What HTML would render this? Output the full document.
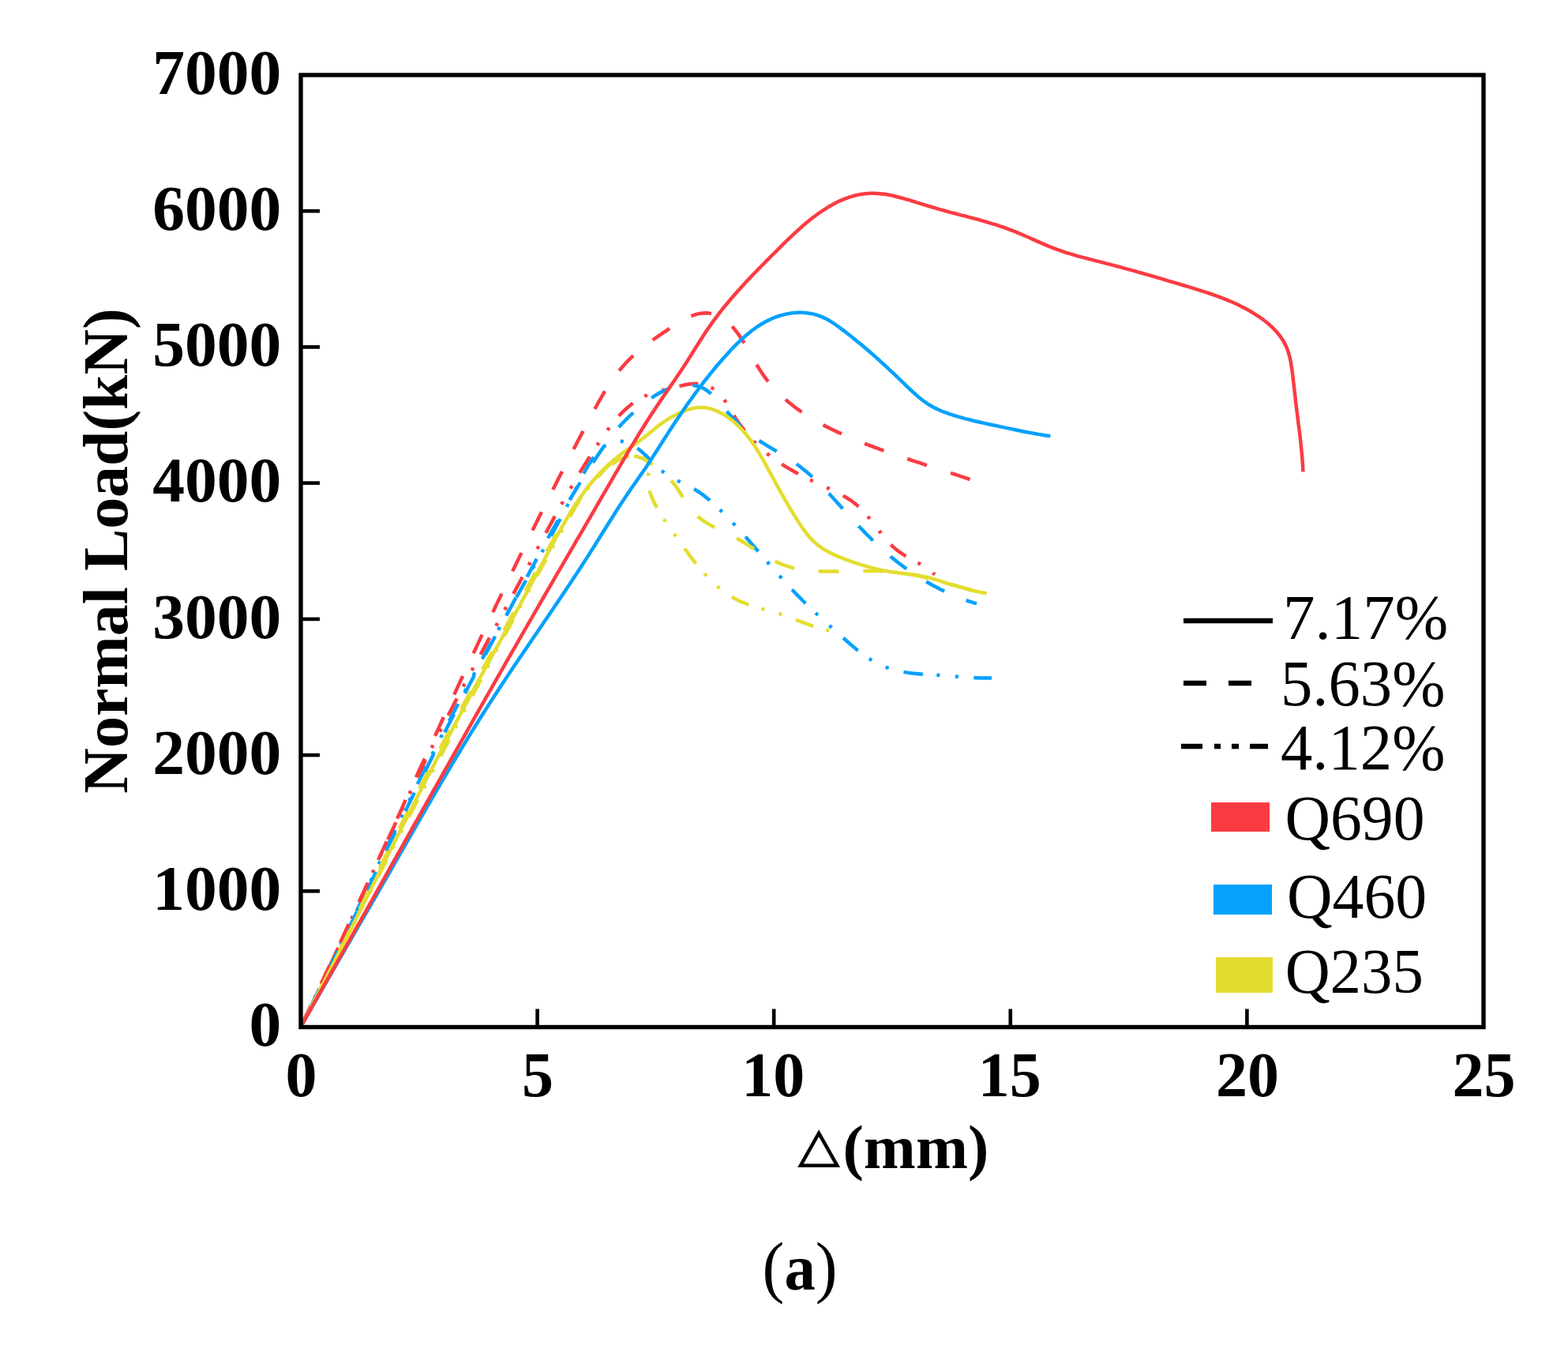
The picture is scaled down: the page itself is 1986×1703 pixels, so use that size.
<!DOCTYPE html>
<html><head><meta charset="utf-8"><title>Normal Load vs displacement</title>
<style>
html,body{margin:0;padding:0;background:#fff;}
body{width:1986px;height:1703px;overflow:hidden;}
svg{display:block;}
</style></head>
<body>
<svg width="1986" height="1703" viewBox="0 0 1986 1703">
<rect x="0" y="0" width="1986" height="1703" fill="#fff"/>
<g>
<g fill="none" stroke-width="4.5" stroke-linejoin="round">
<path d="M381.0,1300.0L383.3,1295.5L385.6,1291.1L387.9,1286.6L390.2,1282.2L392.5,1277.7L394.8,1273.3L397.1,1268.8L399.4,1264.4L401.7,1259.9L404.0,1255.5L406.2,1251.0L408.5,1246.6L410.8,1242.1L413.1,1237.7L415.4,1233.2L417.7,1228.8L420.0,1224.3L422.3,1219.9L424.6,1215.4L426.9,1210.9L429.2,1206.5L431.5,1202.0L433.7,1197.6L436.0,1193.1L438.3,1188.7L440.6,1184.2L442.9,1179.8L445.2,1175.3L447.5,1170.9L449.8,1166.4L452.1,1162.0L454.4,1157.5L456.7,1153.1L459.0,1148.6L461.2,1144.1L463.5,1139.7L465.8,1135.2L468.1,1130.8L470.4,1126.3L472.7,1121.9L475.0,1117.4L477.3,1113.0L479.6,1108.5L481.9,1104.1L484.2,1099.6L486.5,1095.2L488.8,1090.7L491.1,1086.3L493.4,1081.8L495.7,1077.4L498.0,1072.9L500.3,1068.5L502.6,1064.0L504.9,1059.6L507.2,1055.1L509.5,1050.7L511.8,1046.2L514.1,1041.8L516.4,1037.3L518.7,1032.9L521.0,1028.5L523.3,1024.0L525.6,1019.6L527.9,1015.1L530.2,1010.7L532.6,1006.2L534.9,1001.8L537.2,997.3L539.5,992.9L541.8,988.5L544.1,984.0L546.4,979.6L548.8,975.1L551.1,970.7L553.4,966.3L555.7,961.8L558.0,957.4L560.4,952.9L562.7,948.5L565.0,944.1L567.3,939.6L569.7,935.2L572.0,930.8L574.3,926.3L576.7,921.9L579.0,917.5L581.3,913.0L583.7,908.6L586.0,904.2L588.3,899.8L590.7,895.3L593.0,890.9L595.4,886.5L597.7,882.0L600.1,877.6L602.4,873.2L604.8,868.8L607.1,864.3L609.5,859.9L611.8,855.5L614.2,851.1L616.5,846.7L618.9,842.2L621.2,837.8L623.6,833.4L626.0,829.0L628.3,824.6L630.7,820.2L633.1,815.8L635.4,811.3L637.8,806.9L640.2,802.5L642.6,798.1L644.9,793.7L647.3,789.3L649.7,784.9L652.1,780.5L654.5,776.1L656.9,771.7L659.3,767.3L661.7,762.9L664.0,758.5L666.4,754.1L668.8,749.7L671.2,745.3L673.6,740.9L676.1,736.5L678.5,732.1L680.9,727.7L683.3,723.3L685.7,719.0L688.1,714.6L690.5,710.2L693.0,705.8L695.4,701.4L697.8,697.0L700.2,692.6L702.7,688.3L705.1,683.9L707.5,679.5L710.0,675.1L712.4,670.8L714.9,666.4L717.3,662.0L719.8,657.7L722.2,653.3L724.7,649.0L727.2,644.6L729.8,640.3L732.4,636.1L735.1,631.9L737.9,627.7L740.8,623.6L743.7,619.5L746.8,615.5L749.9,611.7L753.2,607.9L756.6,604.2L760.1,600.6L763.7,597.1L767.4,593.8L771.3,590.6L775.3,587.6L779.5,584.8L783.8,582.4L788.4,580.2L793.1,578.5L798.0,577.4L802.9,577.0L807.9,577.4L812.7,578.8L817.0,581.4L820.1,585.2L821.6,590.0L821.7,595.0L821.3,600.0L820.9,605.0L820.8,610.0L821.3,615.0L822.3,619.9L823.7,624.7L825.5,629.4L827.5,634.0L829.7,638.5L832.1,642.9L834.5,647.2L837.1,651.5L839.8,655.7L842.6,659.9L845.4,664.1L848.2,668.2L851.1,672.3L854.0,676.3L857.0,680.4L859.9,684.5L862.8,688.6L865.7,692.7L868.6,696.7L871.6,700.7L874.6,704.8L877.6,708.7L880.7,712.7L883.8,716.6L887.0,720.4L890.3,724.2L893.7,727.9L897.1,731.6L900.6,735.1L904.3,738.6L908.0,742.0L911.8,745.2L915.8,748.3L919.8,751.2L924.0,754.0L928.3,756.6L932.7,759.0L937.2,761.2L941.8,763.2L946.4,765.0L951.1,766.7L955.9,768.2L960.7,769.7L965.5,771.1L970.3,772.4L975.2,773.8L980.0,775.1L984.8,776.6L989.6,778.0L994.3,779.6L999.0,781.3L1003.7,783.0L1008.4,784.8L1013.1,786.6L1017.7,788.4L1022.4,790.2L1027.1,791.9L1031.9,793.5L1036.7,795.1L1041.5,796.5L1046.3,797.7L1051.2,798.8" stroke="#E3DD30" stroke-dasharray="23.8 16.8 4.0 18.8 4.0 18.8" stroke-dashoffset="45.5"/>
<path d="M381.0,1300.0L383.2,1295.5L385.4,1291.0L387.7,1286.5L389.9,1282.0L392.1,1277.5L394.3,1273.0L396.5,1268.5L398.7,1264.0L400.9,1259.5L403.1,1255.0L405.3,1250.5L407.4,1246.0L409.6,1241.4L411.8,1236.9L414.0,1232.4L416.1,1227.9L418.3,1223.4L420.5,1218.8L422.7,1214.3L424.8,1209.8L427.0,1205.3L429.1,1200.8L431.3,1196.2L433.5,1191.7L435.6,1187.2L437.8,1182.6L439.9,1178.1L442.1,1173.6L444.2,1169.1L446.4,1164.5L448.5,1160.0L450.7,1155.5L452.8,1150.9L455.0,1146.4L457.1,1141.9L459.3,1137.3L461.4,1132.8L463.6,1128.3L465.7,1123.8L467.9,1119.2L470.0,1114.7L472.2,1110.2L474.3,1105.6L476.5,1101.1L478.6,1096.6L480.8,1092.1L482.9,1087.5L485.1,1083.0L487.3,1078.5L489.4,1074.0L491.6,1069.4L493.7,1064.9L495.9,1060.4L498.1,1055.9L500.3,1051.3L502.4,1046.8L504.6,1042.3L506.8,1037.8L509.0,1033.3L511.1,1028.8L513.3,1024.3L515.5,1019.7L517.7,1015.2L519.9,1010.7L522.1,1006.2L524.3,1001.7L526.5,997.2L528.7,992.7L531.0,988.2L533.2,983.7L535.4,979.2L537.6,974.7L539.9,970.3L542.1,965.8L544.4,961.3L546.6,956.8L548.9,952.3L551.1,947.8L553.4,943.4L555.6,938.9L557.9,934.4L560.2,930.0L562.5,925.5L564.8,921.0L567.1,916.6L569.4,912.1L571.7,907.7L574.0,903.2L576.3,898.8L578.6,894.3L581.0,889.9L583.3,885.5L585.7,881.0L588.0,876.6L590.4,872.2L592.7,867.8L595.1,863.3L597.5,858.9L599.9,854.5L602.2,850.1L604.6,845.7L607.0,841.3L609.4,836.9L611.8,832.5L614.2,828.1L616.6,823.7L619.0,819.3L621.5,814.9L623.9,810.5L626.3,806.1L628.7,801.7L631.2,797.3L633.6,793.0L636.0,788.6L638.5,784.2L640.9,779.8L643.4,775.4L645.8,771.1L648.3,766.7L650.7,762.3L653.2,757.9L655.6,753.6L658.1,749.2L660.5,744.8L663.0,740.5L665.5,736.1L667.9,731.7L670.4,727.4L672.9,723.0L675.3,718.6L677.8,714.3L680.3,709.9L682.7,705.5L685.2,701.2L687.7,696.8L690.1,692.4L692.6,688.1L695.0,683.7L697.5,679.3L699.9,674.9L702.3,670.5L704.7,666.1L707.1,661.7L709.5,657.3L711.9,652.9L714.3,648.5L716.6,644.1L718.9,639.6L721.2,635.2L723.5,630.7L725.8,626.2L728.1,621.8L730.3,617.3L732.6,612.8L734.8,608.3L737.0,603.8L739.4,599.4L741.8,595.0L744.3,590.6L746.9,586.4L749.7,582.2L752.6,578.1L755.8,574.3L759.2,570.6L762.8,567.1L766.8,564.0L771.0,561.4L775.7,559.4L780.5,558.4L785.6,558.4L790.5,559.3L795.2,560.8L799.8,562.9L804.1,565.5L808.3,568.3L812.2,571.4L815.9,574.8L819.6,578.2L823.1,581.8L826.6,585.3L830.2,588.9L833.8,592.3L837.6,595.7L841.5,598.8L845.6,601.6L849.9,604.2L854.3,606.6L858.8,608.9L863.3,611.1L867.8,613.3L872.3,615.5L876.7,617.8L881.1,620.3L885.3,623.0L889.4,625.9L893.4,628.9L897.3,632.1L901.1,635.4L904.8,638.7L908.5,642.1L912.1,645.6L915.7,649.1L919.2,652.7L922.7,656.3L926.2,659.9L929.6,663.5L933.0,667.2L936.4,670.9L939.8,674.6L943.1,678.4L946.4,682.1L949.7,685.9L953.0,689.7L956.3,693.5L959.6,697.3L962.9,701.1L966.1,704.9L969.4,708.7L972.7,712.5L976.0,716.3L979.3,720.0L982.5,723.8L985.9,727.6L989.2,731.3L992.5,735.1L995.9,738.8L999.3,742.5L1002.7,746.1L1006.2,749.8L1009.7,753.4L1013.2,756.9L1016.7,760.5L1020.3,764.0L1023.9,767.5L1027.5,770.9L1031.2,774.4L1034.9,777.8L1038.6,781.2L1042.3,784.6L1046.0,787.9L1049.7,791.3L1053.4,794.7L1057.2,798.0L1060.9,801.3L1064.6,804.7L1068.4,808.0L1072.1,811.3L1075.9,814.7L1079.7,817.9L1083.5,821.1L1087.4,824.3L1091.4,827.3L1095.5,830.3L1099.6,833.1L1103.8,835.8L1108.2,838.3L1112.6,840.6L1117.2,842.7L1121.8,844.6L1126.5,846.3L1131.3,847.8L1136.2,849.1L1141.1,850.2L1146.0,851.1L1151.0,851.9L1155.9,852.5L1160.9,853.0L1165.9,853.4L1170.9,853.8L1175.9,854.1L1180.9,854.4L1185.9,854.6L1190.9,855.0L1195.9,855.3L1200.9,855.7L1205.9,856.1L1210.9,856.6L1215.9,857.0L1220.9,857.3L1225.9,857.7L1230.9,858.0L1235.9,858.2L1241.0,858.4L1246.0,858.5L1251.0,858.5L1256.0,858.4" stroke="#05A1FC" stroke-dasharray="24.6 17.4 4.1 19.5 4.1 19.5" stroke-dashoffset="15.8"/>
<path d="M381.0,1300.0L383.2,1295.5L385.4,1291.0L387.6,1286.5L389.8,1282.0L391.9,1277.5L394.1,1273.0L396.3,1268.4L398.4,1263.9L400.6,1259.4L402.7,1254.9L404.9,1250.3L407.0,1245.8L409.2,1241.3L411.3,1236.8L413.4,1232.2L415.6,1227.7L417.7,1223.1L419.8,1218.6L421.9,1214.1L424.0,1209.5L426.1,1205.0L428.2,1200.4L430.3,1195.9L432.4,1191.3L434.5,1186.8L436.6,1182.2L438.7,1177.7L440.8,1173.1L442.9,1168.6L445.0,1164.0L447.1,1159.5L449.2,1154.9L451.2,1150.4L453.3,1145.8L455.4,1141.2L457.5,1136.7L459.6,1132.1L461.7,1127.6L463.7,1123.0L465.8,1118.5L467.9,1113.9L470.0,1109.4L472.1,1104.8L474.2,1100.2L476.3,1095.7L478.4,1091.1L480.4,1086.6L482.5,1082.0L484.6,1077.5L486.7,1072.9L488.8,1068.4L490.9,1063.8L493.0,1059.3L495.1,1054.8L497.3,1050.2L499.4,1045.7L501.5,1041.1L503.6,1036.6L505.7,1032.1L507.9,1027.5L510.0,1023.0L512.1,1018.5L514.3,1013.9L516.4,1009.4L518.6,1004.9L520.7,1000.3L522.9,995.8L525.1,991.3L527.2,986.8L529.4,982.3L531.6,977.8L533.8,973.3L536.0,968.8L538.2,964.3L540.4,959.8L542.6,955.3L544.8,950.8L547.0,946.3L549.3,941.8L551.5,937.3L553.8,932.9L556.0,928.4L558.3,923.9L560.6,919.5L562.9,915.0L565.2,910.5L567.5,906.1L569.8,901.7L572.1,897.2L574.4,892.8L576.7,888.3L579.0,883.9L581.4,879.5L583.7,875.0L586.1,870.6L588.4,866.2L590.8,861.8L593.1,857.4L595.5,852.9L597.9,848.5L600.3,844.1L602.6,839.7L605.0,835.3L607.4,830.9L609.8,826.5L612.2,822.1L614.5,817.7L616.9,813.3L619.3,808.9L621.7,804.5L624.1,800.1L626.5,795.7L628.9,791.3L631.3,786.9L633.7,782.5L636.1,778.0L638.5,773.6L640.8,769.2L643.2,764.8L645.6,760.4L648.0,756.0L650.4,751.6L652.8,747.2L655.1,742.8L657.5,738.4L659.9,734.0L662.2,729.5L664.6,725.1L666.9,720.7L669.3,716.3L671.6,711.9L674.0,707.4L676.3,703.0L678.7,698.6L681.0,694.2L683.4,689.7L685.8,685.3L688.1,680.9L690.5,676.5L692.8,672.1L695.2,667.7L697.6,663.2L700.0,658.8L702.4,654.4L704.8,650.1L707.2,645.7L709.6,641.3L712.1,636.9L714.5,632.5L717.0,628.2L719.5,623.8L722.0,619.5L724.5,615.2L727.0,610.8L729.6,606.5L732.1,602.2L734.7,597.9L737.3,593.6L739.9,589.4L742.6,585.1L745.2,580.9L747.9,576.6L750.6,572.4L753.4,568.2L756.1,564.0L758.9,559.9L761.7,555.7L764.5,551.6L767.4,547.5L770.4,543.4L773.4,539.4L776.5,535.5L779.6,531.6L782.9,527.8L786.3,524.1L789.8,520.6L793.5,517.2L797.3,513.9L801.2,510.8L805.3,507.9L809.6,505.3L814.0,502.9L818.5,500.8L823.2,498.9L827.9,497.3L832.7,495.9L837.6,494.6L842.4,493.4L847.3,492.2L852.2,491.1L857.0,489.8L861.9,488.6L866.8,487.5L871.7,486.5L876.7,485.9L881.7,485.7L886.6,486.1L891.6,487.1L896.3,488.6L900.9,490.7L905.2,493.3L909.0,496.4L912.6,500.0L915.7,503.9L918.6,508.0L921.2,512.2L923.8,516.6L926.3,520.9L928.9,525.2L931.5,529.4L934.3,533.6L937.2,537.7L940.2,541.7L943.3,545.7L946.4,549.5L949.7,553.3L953.1,557.0L956.6,560.6L960.1,564.1L963.8,567.6L967.6,570.9L971.4,574.1L975.3,577.3L979.3,580.3L983.4,583.2L987.5,586.0L991.7,588.7L996.0,591.4L1000.3,593.9L1004.6,596.4L1009.0,598.8L1013.4,601.2L1017.9,603.5L1022.4,605.7L1026.9,607.9L1031.4,610.1L1035.9,612.2L1040.5,614.3L1045.0,616.4L1049.6,618.5L1054.1,620.6L1058.6,622.8L1063.1,625.1L1067.5,627.5L1071.8,630.0L1076.1,632.7L1080.2,635.5L1084.2,638.6L1088.0,641.8L1091.6,645.3L1095.0,648.9L1098.3,652.7L1101.5,656.6L1104.6,660.5L1107.6,664.5L1110.7,668.5L1113.7,672.4L1116.8,676.4L1119.9,680.3L1123.2,684.1L1126.6,687.8L1130.1,691.3L1133.8,694.7L1137.7,697.8L1141.8,700.7L1146.1,703.4L1150.4,705.9L1154.8,708.3L1159.2,710.7L1163.6,713.1L1167.9,715.6L1172.2,718.2L1176.3,721.1L1180.3,724.1L1184.0,727.5" stroke="#FB3B42" stroke-dasharray="24.1 17.1 4.0 19.1 4.0 19.1" stroke-dashoffset="0.9"/>
<path d="M381.0,1300.0L383.3,1295.5L385.6,1291.1L387.9,1286.6L390.2,1282.2L392.5,1277.7L394.7,1273.2L397.0,1268.8L399.3,1264.3L401.6,1259.8L403.8,1255.4L406.1,1250.9L408.3,1246.4L410.6,1241.9L412.8,1237.5L415.1,1233.0L417.3,1228.5L419.6,1224.0L421.8,1219.5L424.0,1215.0L426.3,1210.5L428.5,1206.1L430.7,1201.6L432.9,1197.1L435.2,1192.6L437.4,1188.1L439.6,1183.6L441.8,1179.1L444.0,1174.6L446.2,1170.1L448.5,1165.6L450.7,1161.1L452.9,1156.6L455.1,1152.1L457.3,1147.6L459.5,1143.1L461.7,1138.6L463.9,1134.1L466.1,1129.6L468.3,1125.1L470.5,1120.6L472.8,1116.1L475.0,1111.6L477.2,1107.1L479.4,1102.6L481.6,1098.1L483.8,1093.6L486.0,1089.1L488.2,1084.6L490.5,1080.1L492.7,1075.6L494.9,1071.1L497.1,1066.6L499.3,1062.1L501.6,1057.7L503.8,1053.2L506.0,1048.7L508.3,1044.2L510.5,1039.7L512.7,1035.2L515.0,1030.7L517.2,1026.2L519.5,1021.8L521.7,1017.3L524.0,1012.8L526.2,1008.3L528.5,1003.9L530.8,999.4L533.0,994.9L535.3,990.5L537.6,986.0L539.9,981.5L542.2,977.1L544.5,972.6L546.7,968.2L549.1,963.7L551.4,959.3L553.7,954.8L556.0,950.4L558.3,945.9L560.6,941.5L563.0,937.0L565.3,932.6L567.7,928.2L570.0,923.8L572.4,919.3L574.7,914.9L577.1,910.5L579.5,906.1L581.9,901.7L584.2,897.3L586.6,892.8L589.0,888.4L591.4,884.0L593.8,879.6L596.2,875.2L598.6,870.8L601.0,866.4L603.4,862.0L605.8,857.6L608.2,853.2L610.6,848.8L613.0,844.4L615.4,840.0L617.8,835.6L620.2,831.2L622.6,826.8L625.0,822.4L627.5,818.0L629.9,813.7L632.3,809.3L634.7,804.9L637.1,800.5L639.5,796.1L641.9,791.7L644.3,787.3L646.7,782.9L649.1,778.5L651.5,774.0L653.8,769.6L656.2,765.2L658.6,760.8L661.0,756.4L663.4,752.0L665.7,747.6L668.1,743.2L670.5,738.7L672.8,734.3L675.2,729.9L677.5,725.5L679.9,721.0L682.3,716.6L684.7,712.2L687.1,707.8L689.5,703.4L691.9,699.1L694.4,694.7L696.9,690.3L699.3,686.0L701.9,681.6L704.4,677.3L707.0,673.0L709.6,668.7L712.2,664.5L714.9,660.2L717.6,656.0L720.4,651.8L723.1,647.7L726.0,643.5L728.8,639.4L731.8,635.3L734.7,631.3L737.7,627.3L740.8,623.3L743.9,619.4L747.1,615.5L750.3,611.6L753.6,607.8L756.9,604.1L760.3,600.4L763.7,596.7L767.2,593.1L770.8,589.7L774.6,586.4L778.6,583.4L782.9,580.8L787.5,578.7L792.3,577.4L797.3,576.9L802.3,577.2L807.2,578.2L811.9,579.8L816.5,581.9L820.8,584.4L825.0,587.1L829.1,590.0L833.1,593.0L837.0,596.2L840.8,599.4L844.5,602.8L848.0,606.4L851.4,610.1L854.6,614.0L857.6,618.0L860.3,622.2L862.9,626.5L865.5,630.8L868.1,635.1L870.7,639.3L873.6,643.4L876.8,647.3L880.3,650.9L884.0,654.2L887.9,657.3L892.1,660.2L896.3,662.9L900.7,665.4L905.1,667.7L909.5,670.0L914.1,672.2L918.6,674.4L923.1,676.6L927.6,678.8L932.0,681.1L936.4,683.5L940.7,686.0L945.0,688.6L949.3,691.3L953.5,693.9L957.8,696.6L962.0,699.3L966.3,701.9L970.6,704.5L974.9,706.9L979.4,709.3L983.8,711.6L988.4,713.6L993.1,715.5L997.8,717.2L1002.6,718.6L1007.5,719.8L1012.4,720.8L1017.3,721.6L1022.3,722.2L1027.3,722.7L1032.3,723.1L1037.3,723.3L1042.3,723.5L1047.3,723.6L1052.3,723.6L1057.3,723.6L1062.3,723.5L1067.4,723.4L1072.4,723.3L1077.4,723.2L1082.4,723.1L1087.4,723.0L1092.4,723.0L1097.4,722.9L1102.4,723.0L1107.5,723.0L1112.5,723.1L1117.5,723.3L1122.5,723.6L1127.5,723.9L1132.5,724.4L1137.5,724.9L1142.4,725.6L1147.4,726.3L1152.3,727.1L1157.3,728.1L1162.2,729.1L1167.1,730.1L1172.0,731.3L1176.8,732.4L1181.7,733.7L1186.5,734.9L1191.4,736.2L1196.2,737.5L1201.1,738.9L1205.9,740.2L1210.7,741.5L1215.5,742.8L1220.4,744.2L1225.2,745.5L1230.1,746.7L1234.9,747.9L1239.8,749.1L1244.7,750.2L1249.6,751.3" stroke="#E3DD30" stroke-dasharray="26.0 30.8" stroke-dashoffset="3.8"/>
<path d="M381.0,1300.0L383.2,1295.5L385.5,1291.0L387.7,1286.6L389.9,1282.1L392.1,1277.6L394.4,1273.1L396.6,1268.6L398.8,1264.1L401.0,1259.6L403.2,1255.1L405.4,1250.6L407.6,1246.1L409.8,1241.6L412.0,1237.2L414.2,1232.7L416.4,1228.2L418.6,1223.6L420.7,1219.1L422.9,1214.6L425.1,1210.1L427.3,1205.6L429.5,1201.1L431.6,1196.6L433.8,1192.1L436.0,1187.6L438.2,1183.1L440.3,1178.6L442.5,1174.1L444.7,1169.6L446.9,1165.1L449.0,1160.5L451.2,1156.0L453.4,1151.5L455.5,1147.0L457.7,1142.5L459.9,1138.0L462.0,1133.5L464.2,1129.0L466.4,1124.5L468.5,1119.9L470.7,1115.4L472.9,1110.9L475.0,1106.4L477.2,1101.9L479.4,1097.4L481.5,1092.9L483.7,1088.4L485.9,1083.9L488.1,1079.3L490.2,1074.8L492.4,1070.3L494.6,1065.8L496.8,1061.3L499.0,1056.8L501.1,1052.3L503.3,1047.8L505.5,1043.3L507.7,1038.8L509.9,1034.3L512.1,1029.8L514.3,1025.3L516.5,1020.8L518.7,1016.3L520.9,1011.8L523.1,1007.3L525.3,1002.8L527.5,998.4L529.7,993.9L532.0,989.4L534.2,984.9L536.4,980.4L538.6,975.9L540.9,971.5L543.1,967.0L545.4,962.5L547.6,958.0L549.8,953.6L552.1,949.1L554.4,944.6L556.6,940.2L558.9,935.7L561.2,931.2L563.4,926.8L565.7,922.3L568.0,917.9L570.3,913.4L572.6,909.0L574.9,904.5L577.2,900.1L579.5,895.6L581.8,891.2L584.1,886.8L586.4,882.3L588.8,877.9L591.1,873.5L593.4,869.0L595.8,864.6L598.1,860.2L600.4,855.8L602.8,851.3L605.1,846.9L607.5,842.5L609.8,838.1L612.2,833.6L614.5,829.2L616.9,824.8L619.3,820.4L621.6,816.0L624.0,811.6L626.3,807.2L628.7,802.8L631.1,798.3L633.4,793.9L635.8,789.5L638.2,785.1L640.5,780.7L642.9,776.3L645.3,771.9L647.7,767.5L650.0,763.1L652.4,758.7L654.8,754.3L657.1,749.8L659.5,745.4L661.9,741.0L664.2,736.6L666.6,732.2L669.0,727.8L671.3,723.4L673.7,719.0L676.1,714.6L678.5,710.2L680.8,705.8L683.2,701.4L685.6,697.0L688.0,692.6L690.4,688.2L692.8,683.8L695.2,679.4L697.6,675.0L700.0,670.6L702.5,666.3L704.9,661.9L707.4,657.5L709.9,653.2L712.3,648.8L714.8,644.5L717.4,640.2L719.9,635.8L722.4,631.5L725.0,627.2L727.6,622.9L730.1,618.7L732.8,614.4L735.4,610.1L738.0,605.9L740.7,601.6L743.4,597.4L746.1,593.2L748.8,589.0L751.6,584.8L754.3,580.7L757.1,576.5L760.0,572.4L762.8,568.3L765.7,564.2L768.6,560.1L771.6,556.1L774.6,552.1L777.7,548.2L780.9,544.3L784.2,540.5L787.5,536.8L791.0,533.2L794.5,529.6L798.2,526.2L801.9,522.9L805.7,519.7L809.6,516.5L813.5,513.3L817.4,510.2L821.3,507.0L825.2,504.0L829.3,501.1L833.6,498.5L838.0,496.1L842.5,494.0L847.2,492.2L852.0,490.7L856.8,489.4L861.7,488.5L866.7,487.8L871.7,487.6L876.7,487.7L881.6,488.4L886.5,489.8L891.0,491.8L895.3,494.4L899.3,497.4L903.0,500.8L906.5,504.3L909.9,508.1L913.1,511.9L916.3,515.7L919.5,519.6L922.8,523.4L926.1,527.1L929.5,530.8L933.0,534.4L936.5,537.9L940.2,541.3L943.9,544.7L947.7,547.9L951.7,551.0L955.7,553.9L959.8,556.8L964.0,559.5L968.3,562.2L972.5,564.8L976.8,567.4L981.1,569.9L985.4,572.5L989.7,575.0L994.0,577.6L998.2,580.3L1002.4,583.0L1006.6,585.8L1010.6,588.8L1014.6,591.8L1018.5,594.9L1022.4,598.1L1026.1,601.4L1029.8,604.8L1033.5,608.2L1037.1,611.7L1040.6,615.2L1044.1,618.8L1047.6,622.4L1051.0,626.1L1054.4,629.8L1057.8,633.5L1061.2,637.2L1064.5,640.9L1067.9,644.6L1071.2,648.3L1074.6,652.0L1078.0,655.7L1081.4,659.4L1084.8,663.0L1088.2,666.7L1091.6,670.3L1095.1,673.9L1098.6,677.5L1102.2,681.0L1105.7,684.5L1109.3,688.0L1113.0,691.4L1116.7,694.8L1120.4,698.2L1124.2,701.4L1128.0,704.7L1131.9,707.8L1135.8,711.0L1139.8,714.0L1143.8,717.0L1147.8,720.0L1151.9,722.9L1156.0,725.7L1160.2,728.4L1164.4,731.1L1168.7,733.8L1173.0,736.3L1177.3,738.8L1181.7,741.3L1186.1,743.6L1190.6,745.9L1195.1,748.1L1199.6,750.2L1204.1,752.3L1208.7,754.3L1213.4,756.2L1218.0,758.0L1222.7,759.7L1227.5,761.4L1232.2,762.9L1237.0,764.4" stroke="#05A1FC" stroke-dasharray="26.0 29.7" stroke-dashoffset="30.8"/>
<path d="M381.0,1300.0L383.1,1295.5L385.3,1290.9L387.4,1286.4L389.6,1281.9L391.7,1277.4L393.9,1272.8L396.0,1268.3L398.1,1263.8L400.3,1259.2L402.4,1254.7L404.5,1250.1L406.6,1245.6L408.8,1241.1L410.9,1236.5L413.0,1232.0L415.1,1227.5L417.2,1222.9L419.4,1218.4L421.5,1213.8L423.6,1209.3L425.7,1204.7L427.8,1200.2L429.9,1195.6L432.0,1191.1L434.1,1186.6L436.2,1182.0L438.3,1177.5L440.4,1172.9L442.5,1168.4L444.6,1163.8L446.7,1159.3L448.8,1154.7L450.9,1150.2L453.0,1145.6L455.1,1141.1L457.2,1136.5L459.3,1131.9L461.4,1127.4L463.5,1122.8L465.6,1118.3L467.7,1113.7L469.7,1109.2L471.8,1104.6L473.9,1100.1L476.0,1095.5L478.1,1091.0L480.2,1086.4L482.3,1081.8L484.4,1077.3L486.4,1072.7L488.5,1068.2L490.6,1063.6L492.7,1059.1L494.8,1054.5L496.9,1049.9L498.9,1045.4L501.0,1040.8L503.1,1036.3L505.2,1031.7L507.3,1027.2L509.4,1022.6L511.4,1018.0L513.5,1013.5L515.6,1008.9L517.7,1004.4L519.8,999.8L521.9,995.3L524.0,990.7L526.0,986.2L528.1,981.6L530.2,977.0L532.3,972.5L534.4,967.9L536.5,963.4L538.6,958.8L540.7,954.3L542.8,949.7L544.9,945.2L546.9,940.6L549.0,936.1L551.1,931.5L553.2,927.0L555.3,922.4L557.4,917.9L559.5,913.3L561.6,908.8L563.7,904.2L565.8,899.7L567.9,895.1L570.0,890.6L572.2,886.0L574.3,881.5L576.4,876.9L578.5,872.4L580.6,867.9L582.7,863.3L584.8,858.8L587.0,854.2L589.1,849.7L591.2,845.1L593.3,840.6L595.4,836.1L597.6,831.5L599.7,827.0L601.8,822.5L604.0,817.9L606.1,813.4L608.2,808.9L610.4,804.3L612.5,799.8L614.7,795.3L616.8,790.7L619.0,786.2L621.1,781.7L623.3,777.2L625.4,772.6L627.6,768.1L629.7,763.6L631.9,759.1L634.1,754.6L636.2,750.0L638.4,745.5L640.6,741.0L642.8,736.5L644.9,732.0L647.1,727.5L649.3,723.0L651.5,718.5L653.7,714.0L655.9,709.5L658.1,704.9L660.3,700.4L662.5,695.9L664.7,691.4L666.9,686.9L669.1,682.5L671.3,678.0L673.5,673.5L675.8,669.0L678.0,664.5L680.2,660.0L682.4,655.5L684.7,651.0L686.9,646.5L689.2,642.1L691.4,637.6L693.7,633.1L695.9,628.6L698.2,624.2L700.4,619.7L702.7,615.2L705.0,610.8L707.2,606.3L709.5,601.8L711.8,597.4L714.1,592.9L716.4,588.4L718.7,584.0L721.0,579.5L723.3,575.1L725.6,570.6L727.9,566.2L730.2,561.7L732.5,557.3L734.8,552.9L737.2,548.4L739.5,544.0L741.8,539.6L744.2,535.1L746.5,530.7L748.9,526.3L751.2,521.9L753.6,517.4L756.0,513.0L758.4,508.7L760.9,504.3L763.4,500.0L766.0,495.7L768.6,491.4L771.4,487.2L774.1,483.0L777.0,478.9L780.0,474.9L783.0,470.9L786.2,467.0L789.5,463.2L792.8,459.5L796.3,455.9L799.9,452.4L803.6,449.0L807.4,445.7L811.2,442.5L815.1,439.4L819.0,436.3L823.0,433.3L827.1,430.3L831.2,427.4L835.3,424.6L839.4,421.7L843.6,419.0L847.8,416.2L852.0,413.5L856.2,410.8L860.5,408.1L864.8,405.5L869.2,403.1L873.7,401.0L878.3,399.1L883.1,397.6L888.0,396.7L893.0,396.3L898.0,396.6L903.0,397.5L907.7,399.0L912.3,401.0L916.6,403.6L920.5,406.7L924.2,410.1L927.7,413.7L930.9,417.6L934.0,421.5L936.9,425.6L939.7,429.7L942.4,434.0L944.9,438.3L947.5,442.6L950.0,447.0L952.4,451.3L954.9,455.7L957.4,460.0L960.0,464.3L962.6,468.6L965.3,472.8L968.2,476.9L971.2,480.9L974.3,484.8L977.6,488.6L980.9,492.4L984.4,496.0L988.0,499.5L991.6,502.9L995.4,506.3L999.2,509.5L1003.1,512.6L1007.1,515.7L1011.1,518.6L1015.2,521.5L1019.4,524.3L1023.6,527.0L1027.9,529.6L1032.2,532.2L1036.6,534.6L1040.9,537.0L1045.4,539.4L1049.8,541.7L1054.3,543.9L1058.8,546.1L1063.4,548.2L1068.0,550.2L1072.5,552.3L1077.1,554.2L1081.8,556.2L1086.4,558.1L1091.0,559.9L1095.7,561.8L1100.4,563.6L1105.1,565.4L1109.8,567.1L1114.5,568.9L1119.2,570.6L1123.9,572.3L1128.6,573.9L1133.3,575.6L1138.1,577.2L1142.8,578.8L1147.6,580.4L1152.3,582.0L1157.1,583.6L1161.8,585.2L1166.6,586.7L1171.4,588.3L1176.1,589.9L1180.9,591.4L1185.7,592.9L1190.4,594.5L1195.2,596.0L1200.0,597.6L1204.7,599.1L1209.5,600.7L1214.2,602.2L1219.0,603.8L1223.8,605.4L1228.5,607.0" stroke="#FB3B42" stroke-dasharray="26.0 31.6" stroke-dashoffset="55.2"/>
<path d="M381.0,1300.0L383.3,1295.6L385.6,1291.1L388.0,1286.7L390.3,1282.2L392.6,1277.8L394.9,1273.3L397.2,1268.9L399.5,1264.4L401.8,1260.0L404.1,1255.5L406.4,1251.1L408.7,1246.6L411.0,1242.2L413.3,1237.7L415.5,1233.3L417.8,1228.8L420.1,1224.3L422.4,1219.9L424.6,1215.4L426.9,1210.9L429.2,1206.5L431.4,1202.0L433.7,1197.5L436.0,1193.0L438.2,1188.6L440.5,1184.1L442.7,1179.6L445.0,1175.2L447.2,1170.7L449.5,1166.2L451.8,1161.7L454.0,1157.3L456.3,1152.8L458.5,1148.3L460.7,1143.8L463.0,1139.3L465.2,1134.9L467.5,1130.4L469.7,1125.9L472.0,1121.4L474.2,1117.0L476.5,1112.5L478.7,1108.0L481.0,1103.5L483.2,1099.0L485.5,1094.6L487.7,1090.1L490.0,1085.6L492.2,1081.1L494.5,1076.6L496.7,1072.2L499.0,1067.7L501.2,1063.2L503.5,1058.7L505.7,1054.3L508.0,1049.8L510.2,1045.3L512.5,1040.9L514.8,1036.4L517.0,1031.9L519.3,1027.4L521.6,1023.0L523.8,1018.5L526.1,1014.0L528.4,1009.6L530.6,1005.1L532.9,1000.7L535.2,996.2L537.5,991.7L539.8,987.3L542.1,982.8L544.4,978.4L546.7,973.9L549.0,969.5L551.3,965.0L553.6,960.6L555.9,956.1L558.2,951.7L560.5,947.2L562.8,942.8L565.1,938.3L567.5,933.9L569.8,929.5L572.1,925.0L574.5,920.6L576.8,916.2L579.2,911.8L581.5,907.3L583.9,902.9L586.2,898.5L588.6,894.1L591.0,889.7L593.4,885.3L595.7,880.8L598.1,876.4L600.5,872.0L602.9,867.6L605.3,863.2L607.7,858.8L610.1,854.4L612.5,850.0L614.9,845.6L617.3,841.2L619.7,836.8L622.1,832.5L624.5,828.1L626.9,823.7L629.3,819.3L631.7,814.9L634.2,810.5L636.6,806.1L639.0,801.7L641.4,797.3L643.8,792.9L646.2,788.5L648.6,784.1L651.0,779.7L653.4,775.3L655.8,770.9L658.2,766.5L660.6,762.1L663.0,757.7L665.4,753.3L667.8,748.9L670.2,744.5L672.6,740.1L675.0,735.7L677.3,731.3L679.7,726.9L682.1,722.5L684.5,718.1L686.8,713.6L689.2,709.2L691.5,704.8L693.9,700.4L696.2,695.9L698.6,691.5L700.9,687.1L703.3,682.7L705.7,678.3L708.1,673.9L710.5,669.5L713.0,665.1L715.5,660.8L718.0,656.5L720.5,652.2L723.1,647.9L725.8,643.6L728.5,639.4L731.3,635.2L734.1,631.1L737.0,627.0L739.9,622.9L742.9,618.9L746.0,615.0L749.1,611.1L752.4,607.2L755.7,603.5L759.1,599.8L762.5,596.2L766.1,592.6L769.7,589.2L773.5,585.9L777.3,582.6L781.2,579.4L785.1,576.4L789.1,573.4L793.2,570.4L797.2,567.5L801.3,564.6L805.4,561.6L809.4,558.7L813.4,555.7L817.4,552.6L821.3,549.5L825.2,546.3L829.0,543.1L832.9,539.9L836.9,536.9L841.0,534.0L845.2,531.3L849.5,528.8L853.9,526.3L858.4,524.0L862.9,521.9L867.5,520.0L872.3,518.4L877.1,517.1L882.0,516.2L887.0,515.9L892.0,516.1L897.0,516.8L901.8,518.1L906.6,519.8L911.1,521.9L915.5,524.2L919.8,526.9L923.9,529.7L927.9,532.8L931.7,536.1L935.3,539.5L938.9,543.0L942.2,546.7L945.5,550.6L948.6,554.5L951.6,558.5L954.4,562.6L957.2,566.8L959.9,571.0L962.5,575.3L965.0,579.6L967.5,584.0L969.9,588.4L972.3,592.8L974.7,597.2L977.1,601.6L979.5,606.0L981.9,610.4L984.3,614.8L986.7,619.2L989.1,623.6L991.6,627.9L994.0,632.3L996.5,636.6L999.1,641.0L1001.6,645.3L1004.2,649.5L1006.9,653.8L1009.5,658.0L1012.3,662.3L1015.0,666.4L1017.9,670.5L1020.9,674.6L1024.0,678.5L1027.3,682.2L1030.9,685.8L1034.6,689.1L1038.6,692.2L1042.7,695.0L1047.0,697.5L1051.4,699.9L1056.0,702.1L1060.5,704.1L1065.2,706.0L1069.8,707.9L1074.5,709.6L1079.2,711.3L1084.0,712.9L1088.8,714.4L1093.5,715.9L1098.4,717.3L1103.2,718.6L1108.0,719.9L1112.9,721.0L1117.8,722.1L1122.7,723.0L1127.7,723.9L1132.6,724.6L1137.6,725.3L1142.6,725.9L1147.6,726.5L1152.5,727.0L1157.5,727.7L1162.4,728.5L1167.4,729.4L1172.3,730.4L1177.1,731.7L1182.0,733.0L1186.8,734.4L1191.5,735.9L1196.3,737.5L1201.1,739.0L1205.9,740.5L1210.7,741.9L1215.5,743.4L1220.3,744.7L1225.1,746.0L1230.0,747.3L1234.9,748.4L1239.7,749.5L1244.7,750.4L1249.6,751.3" stroke="#E3DD30"/>
<path d="M381.0,1300.0L383.5,1295.6L386.0,1291.3L388.4,1286.9L390.9,1282.6L393.4,1278.2L395.9,1273.9L398.4,1269.5L400.9,1265.2L403.3,1260.8L405.8,1256.5L408.3,1252.2L410.8,1247.8L413.3,1243.5L415.8,1239.1L418.3,1234.8L420.8,1230.4L423.3,1226.1L425.8,1221.7L428.3,1217.4L430.8,1213.1L433.3,1208.7L435.8,1204.4L438.3,1200.0L440.8,1195.7L443.3,1191.4L445.8,1187.0L448.3,1182.7L450.8,1178.4L453.3,1174.0L455.8,1169.7L458.3,1165.3L460.8,1161.0L463.3,1156.7L465.9,1152.3L468.4,1148.0L470.9,1143.6L473.4,1139.3L475.9,1135.0L478.4,1130.6L480.9,1126.3L483.4,1121.9L485.9,1117.6L488.4,1113.3L490.9,1108.9L493.4,1104.6L495.9,1100.2L498.4,1095.9L500.8,1091.5L503.3,1087.2L505.8,1082.8L508.3,1078.5L510.8,1074.2L513.3,1069.8L515.8,1065.5L518.3,1061.1L520.8,1056.8L523.3,1052.4L525.8,1048.1L528.3,1043.7L530.8,1039.4L533.3,1035.0L535.8,1030.7L538.3,1026.4L540.8,1022.0L543.3,1017.7L545.8,1013.4L548.3,1009.0L550.8,1004.7L553.3,1000.4L555.9,996.0L558.4,991.7L560.9,987.4L563.5,983.1L566.0,978.8L568.6,974.5L571.1,970.1L573.7,965.8L576.3,961.5L578.8,957.2L581.4,953.0L584.0,948.7L586.6,944.4L589.2,940.1L591.8,935.8L594.4,931.5L597.0,927.3L599.7,923.0L602.3,918.8L605.0,914.5L607.6,910.3L610.3,906.0L613.0,901.8L615.7,897.6L618.4,893.3L621.1,889.1L623.8,884.9L626.5,880.7L629.3,876.5L632.0,872.3L634.8,868.1L637.5,864.0L640.3,859.8L643.1,855.6L645.8,851.5L648.6,847.3L651.4,843.1L654.2,839.0L657.0,834.8L659.8,830.7L662.6,826.5L665.5,822.4L668.3,818.2L671.1,814.1L673.9,810.0L676.7,805.8L679.6,801.7L682.4,797.5L685.2,793.4L688.0,789.3L690.8,785.1L693.7,781.0L696.5,776.8L699.3,772.7L702.1,768.6L704.9,764.4L707.7,760.2L710.5,756.1L713.3,751.9L716.1,747.8L718.9,743.6L721.6,739.4L724.4,735.3L727.2,731.1L729.9,726.9L732.7,722.7L735.4,718.5L738.1,714.3L740.9,710.1L743.6,705.9L746.3,701.7L748.9,697.4L751.6,693.2L754.3,689.0L756.9,684.7L759.6,680.5L762.2,676.2L764.9,672.0L767.6,667.7L770.2,663.5L772.9,659.2L775.6,655.0L778.2,650.8L780.9,646.5L783.6,642.3L786.4,638.1L789.1,633.9L791.9,629.8L794.7,625.6L797.5,621.4L800.3,617.3L803.2,613.2L806.1,609.1L808.9,605.0L811.8,600.9L814.7,596.8L817.5,592.7L820.3,588.5L823.1,584.3L825.8,580.2L828.5,575.9L831.2,571.7L833.9,567.5L836.6,563.2L839.3,559.0L842.0,554.8L844.7,550.6L847.4,546.4L850.1,542.2L852.9,538.0L855.7,533.8L858.4,529.7L861.3,525.5L864.1,521.4L866.9,517.2L869.8,513.1L872.7,509.0L875.6,505.0L878.5,500.9L881.5,496.9L884.5,492.8L887.5,488.8L890.5,484.9L893.6,480.9L896.7,477.0L899.8,473.1L903.0,469.2L906.2,465.3L909.4,461.5L912.7,457.7L916.0,453.9L919.3,450.2L922.7,446.5L926.1,442.8L929.6,439.2L933.1,435.7L936.7,432.2L940.4,428.7L944.1,425.4L947.9,422.2L951.8,419.0L955.9,416.0L960.0,413.2L964.2,410.5L968.5,408.0L973.0,405.6L977.5,403.5L982.1,401.6L986.9,400.0L991.7,398.6L996.6,397.5L1001.5,396.6L1006.5,396.1L1011.5,395.8L1016.5,395.8L1021.5,396.2L1026.4,396.9L1031.3,397.9L1036.2,399.3L1040.8,401.1L1045.4,403.2L1049.8,405.6L1054.0,408.2L1058.2,411.0L1062.3,413.9L1066.3,416.9L1070.3,419.9L1074.3,423.0L1078.2,426.1L1082.1,429.2L1086.0,432.4L1089.9,435.5L1093.7,438.8L1097.5,442.0L1101.3,445.3L1105.1,448.6L1108.9,451.9L1112.6,455.2L1116.3,458.6L1120.0,462.0L1123.7,465.4L1127.3,468.8L1131.0,472.2L1134.6,475.7L1138.2,479.1L1141.9,482.6L1145.5,486.1L1149.1,489.6L1152.7,493.0L1156.3,496.4L1160.1,499.8L1163.9,503.1L1167.8,506.2L1171.8,509.2L1176.0,512.0L1180.3,514.5L1184.7,516.9L1189.2,519.0L1193.8,521.0L1198.5,522.7L1203.2,524.4L1208.0,525.9L1212.8,527.4L1217.6,528.7L1222.5,530.1L1227.3,531.3L1232.2,532.5L1237.0,533.7L1241.9,534.8L1246.8,535.9L1251.7,537.0L1256.6,538.0L1261.5,539.0L1266.4,540.1L1271.3,541.1L1276.2,542.1L1281.1,543.1L1286.0,544.2L1290.9,545.2L1295.8,546.2L1300.8,547.2L1305.7,548.1L1310.6,549.0L1315.5,549.9L1320.5,550.7L1325.4,551.4L1330.4,552.1" stroke="#05A1FC"/>
<path d="M381.0,1300.0L383.5,1295.6L385.9,1291.3L388.4,1286.9L390.9,1282.6L393.3,1278.2L395.8,1273.8L398.2,1269.5L400.7,1265.1L403.2,1260.7L405.6,1256.4L408.1,1252.0L410.5,1247.7L413.0,1243.3L415.5,1238.9L417.9,1234.6L420.4,1230.2L422.8,1225.8L425.3,1221.5L427.7,1217.1L430.2,1212.7L432.6,1208.4L435.1,1204.0L437.6,1199.6L440.0,1195.3L442.5,1190.9L444.9,1186.5L447.4,1182.2L449.8,1177.8L452.3,1173.4L454.7,1169.1L457.2,1164.7L459.6,1160.3L462.1,1156.0L464.5,1151.6L467.0,1147.2L469.4,1142.9L471.9,1138.5L474.3,1134.1L476.8,1129.7L479.2,1125.4L481.7,1121.0L484.1,1116.6L486.6,1112.3L489.0,1107.9L491.5,1103.5L493.9,1099.2L496.4,1094.8L498.8,1090.4L501.3,1086.1L503.7,1081.7L506.2,1077.3L508.6,1073.0L511.1,1068.6L513.5,1064.2L516.0,1059.9L518.4,1055.5L520.9,1051.1L523.3,1046.7L525.8,1042.4L528.3,1038.0L530.7,1033.6L533.2,1029.3L535.6,1024.9L538.1,1020.5L540.5,1016.2L543.0,1011.8L545.4,1007.5L547.9,1003.1L550.3,998.7L552.8,994.4L555.3,990.0L557.7,985.6L560.2,981.3L562.6,976.9L565.1,972.5L567.6,968.2L570.0,963.8L572.5,959.4L574.9,955.1L577.4,950.7L579.9,946.4L582.3,942.0L584.8,937.6L587.3,933.3L589.7,928.9L592.2,924.6L594.7,920.2L597.1,915.8L599.6,911.5L602.1,907.1L604.5,902.8L607.0,898.4L609.5,894.1L612.0,889.7L614.4,885.4L616.9,881.0L619.4,876.6L621.9,872.3L624.4,867.9L626.8,863.6L629.3,859.2L631.8,854.9L634.3,850.5L636.8,846.2L639.2,841.8L641.7,837.5L644.2,833.1L646.7,828.8L649.2,824.4L651.7,820.1L654.2,815.8L656.7,811.4L659.2,807.1L661.7,802.7L664.2,798.4L666.7,794.0L669.2,789.7L671.7,785.4L674.2,781.0L676.7,776.7L679.2,772.4L681.7,768.0L684.2,763.7L686.7,759.3L689.2,755.0L691.7,750.7L694.2,746.3L696.8,742.0L699.3,737.7L701.8,733.4L704.3,729.0L706.8,724.7L709.4,720.4L711.9,716.0L714.4,711.7L716.9,707.4L719.4,703.1L722.0,698.7L724.5,694.4L727.0,690.1L729.5,685.7L732.0,681.4L734.6,677.1L737.1,672.8L739.6,668.4L742.1,664.1L744.6,659.8L747.2,655.4L749.7,651.1L752.2,646.8L754.7,642.4L757.2,638.1L759.7,633.8L762.2,629.4L764.7,625.1L767.2,620.8L769.8,616.4L772.3,612.1L774.8,607.8L777.3,603.4L779.8,599.1L782.3,594.8L784.9,590.4L787.4,586.1L789.9,581.8L792.5,577.5L795.0,573.2L797.6,568.9L800.2,564.6L802.8,560.3L805.4,556.0L808.0,551.8L810.6,547.5L813.3,543.2L815.9,539.0L818.6,534.8L821.3,530.6L824.0,526.3L826.8,522.1L829.5,518.0L832.3,513.8L835.1,509.6L837.9,505.5L840.7,501.3L843.6,497.2L846.4,493.1L849.2,489.0L852.1,484.8L854.9,480.7L857.7,476.6L860.5,472.4L863.3,468.2L866.1,464.1L868.8,459.9L871.5,455.6L874.1,451.4L876.8,447.2L879.5,442.9L882.1,438.7L884.8,434.4L887.5,430.2L890.2,426.0L892.9,421.8L895.7,417.6L898.6,413.5L901.4,409.4L904.4,405.4L907.4,401.3L910.4,397.4L913.5,393.4L916.6,389.5L919.8,385.6L923.0,381.8L926.2,378.0L929.5,374.2L932.8,370.4L936.2,366.7L939.5,363.0L942.9,359.3L946.3,355.6L949.8,351.9L953.2,348.3L956.7,344.7L960.2,341.1L963.7,337.5L967.2,334.0L970.7,330.4L974.3,326.9L977.8,323.3L981.3,319.8L984.9,316.3L988.5,312.7L992.0,309.2L995.6,305.7L999.2,302.2L1002.8,298.8L1006.5,295.3L1010.2,291.9L1013.9,288.6L1017.6,285.3L1021.5,282.1L1025.3,278.9L1029.3,275.8L1033.3,272.8L1037.3,269.8L1041.5,267.0L1045.7,264.3L1049.9,261.6L1054.3,259.2L1058.7,256.8L1063.2,254.6L1067.8,252.6L1072.5,250.8L1077.2,249.2L1082.0,247.8L1086.9,246.6L1091.8,245.8L1096.8,245.2L1101.8,244.8L1106.8,244.7L1111.8,244.9L1116.8,245.4L1121.8,246.0L1126.7,246.9L1131.6,248.0L1136.4,249.2L1141.3,250.5L1146.1,251.8L1150.9,253.2L1155.7,254.7L1160.5,256.2L1165.3,257.6L1170.1,259.1L1174.9,260.6L1179.6,262.0L1184.5,263.4L1189.3,264.8L1194.1,266.2L1198.9,267.5L1203.8,268.8L1208.6,270.0L1213.5,271.3L1218.3,272.6L1223.2,273.8L1228.0,275.1L1232.8,276.4L1237.7,277.7L1242.5,279.0L1247.3,280.4L1252.1,281.8L1256.9,283.3L1261.7,284.7L1266.5,286.3L1271.2,287.9L1275.9,289.6L1280.6,291.3L1285.3,293.2L1289.9,295.1L1294.5,297.0L1299.1,299.0L1303.7,301.0L1308.3,303.1L1312.9,305.1L1317.4,307.1L1322.0,309.1L1326.6,311.1L1331.3,313.0L1336.0,314.8L1340.7,316.5L1345.4,318.2L1350.1,319.8L1354.9,321.2L1359.7,322.7L1364.5,324.1L1369.4,325.4L1374.2,326.7L1379.0,327.9L1383.9,329.2L1388.8,330.4L1393.6,331.6L1398.5,332.9L1403.3,334.1L1408.2,335.4L1413.0,336.7L1417.9,337.9L1422.7,339.3L1427.5,340.6L1432.3,341.9L1437.2,343.2L1442.0,344.6L1446.8,346.0L1451.6,347.4L1456.4,348.7L1461.3,350.1L1466.1,351.5L1470.9,352.9L1475.7,354.4L1480.5,355.8L1485.3,357.2L1490.1,358.6L1494.9,360.0L1499.7,361.5L1504.5,362.9L1509.3,364.3L1514.1,365.8L1518.9,367.3L1523.6,368.8L1528.4,370.4L1533.1,372.0L1537.9,373.6L1542.6,375.3L1547.3,377.1L1551.9,378.9L1556.6,380.8L1561.2,382.8L1565.7,384.8L1570.3,387.0L1574.7,389.2L1579.2,391.6L1583.5,394.0L1587.8,396.6L1592.0,399.3L1596.2,402.1L1600.3,405.0L1604.2,408.1L1608.0,411.3L1611.7,414.7L1615.2,418.3L1618.5,422.1L1621.6,426.0L1624.4,430.2L1627.0,434.5L1629.2,439.0L1631.0,443.6L1632.5,448.4L1633.8,453.3L1634.8,458.2L1635.6,463.1L1636.4,468.1L1637.0,473.0L1637.7,478.0L1638.2,483.0L1638.8,487.9L1639.4,492.9L1639.9,497.9L1640.5,502.9L1641.0,507.9L1641.6,512.8L1642.2,517.8L1642.9,522.8L1643.5,527.7L1644.1,532.7L1644.7,537.7L1645.4,542.6L1646.0,547.6L1646.6,552.6L1647.1,557.6L1647.7,562.6L1648.2,567.5L1648.7,572.5L1649.1,577.5L1649.5,582.5L1649.9,587.5L1650.2,592.5L1650.4,597.5" stroke="#FB3B42"/>
</g>
<g stroke="#000" stroke-width="4.6">
<line x1="381" y1="1128.3" x2="405" y2="1128.3"/>
<line x1="381" y1="956.1" x2="405" y2="956.1"/>
<line x1="381" y1="783.9" x2="405" y2="783.9"/>
<line x1="381" y1="611.6" x2="405" y2="611.6"/>
<line x1="381" y1="439.4" x2="405" y2="439.4"/>
<line x1="381" y1="267.2" x2="405" y2="267.2"/>
<line x1="680.6" y1="1300.5" x2="680.6" y2="1277.5"/>
<line x1="980.2" y1="1300.5" x2="980.2" y2="1277.5"/>
<line x1="1279.8" y1="1300.5" x2="1279.8" y2="1277.5"/>
<line x1="1579.4" y1="1300.5" x2="1579.4" y2="1277.5"/>
</g>
<rect x="381" y="95" width="1498" height="1205.5" fill="none" stroke="#000" stroke-width="5.4"/>
<rect x="1060" y="1494" width="200" height="30" fill="#fff"/>
<line x1="1499" y1="786" x2="1612" y2="786" stroke="#000" stroke-width="6.5"/>
<line x1="1499" y1="865" x2="1590" y2="865" stroke="#000" stroke-width="6.5" stroke-dasharray="29 28"/>
<line x1="1496" y1="945" x2="1607" y2="945" stroke="#000" stroke-width="6.5" stroke-dasharray="27 15 8 14 9 14 23"/>
<rect x="1534" y="1016" width="74" height="37" fill="#FB3B42"/>
<rect x="1537" y="1120" width="74" height="38" fill="#05A1FC"/>
<rect x="1540" y="1212" width="72" height="45" fill="#E3DD30"/>
<g fill="#000">
<g transform="matrix(1.0200,0,0,1.0000,356.36,1324.30)"><text font-family="Liberation Serif, Times New Roman, serif" font-weight="bold" font-size="80" x="0" y="0" text-anchor="end">0</text></g>
<g transform="matrix(1.0200,0,0,1.0000,356.36,1152.09)"><text font-family="Liberation Serif, Times New Roman, serif" font-weight="bold" font-size="80" x="0" y="0" text-anchor="end">1000</text></g>
<g transform="matrix(1.0200,0,0,1.0000,356.36,979.87)"><text font-family="Liberation Serif, Times New Roman, serif" font-weight="bold" font-size="80" x="0" y="0" text-anchor="end">2000</text></g>
<g transform="matrix(1.0200,0,0,1.0000,356.36,807.66)"><text font-family="Liberation Serif, Times New Roman, serif" font-weight="bold" font-size="80" x="0" y="0" text-anchor="end">3000</text></g>
<g transform="matrix(1.0200,0,0,1.0000,356.36,635.44)"><text font-family="Liberation Serif, Times New Roman, serif" font-weight="bold" font-size="80" x="0" y="0" text-anchor="end">4000</text></g>
<g transform="matrix(1.0200,0,0,1.0000,356.36,463.23)"><text font-family="Liberation Serif, Times New Roman, serif" font-weight="bold" font-size="80" x="0" y="0" text-anchor="end">5000</text></g>
<g transform="matrix(1.0200,0,0,1.0000,356.36,291.01)"><text font-family="Liberation Serif, Times New Roman, serif" font-weight="bold" font-size="80" x="0" y="0" text-anchor="end">6000</text></g>
<g transform="matrix(1.0200,0,0,1.0000,356.36,118.80)"><text font-family="Liberation Serif, Times New Roman, serif" font-weight="bold" font-size="80" x="0" y="0" text-anchor="end">7000</text></g>
<g transform="matrix(1.0000,0,0,1.0000,381.50,1387.50)"><text font-family="Liberation Serif, Times New Roman, serif" font-weight="bold" font-size="80" x="0" y="0" text-anchor="middle">0</text></g>
<g transform="matrix(1.0000,0,0,1.0000,681.10,1387.50)"><text font-family="Liberation Serif, Times New Roman, serif" font-weight="bold" font-size="80" x="0" y="0" text-anchor="middle">5</text></g>
<g transform="matrix(1.0000,0,0,1.0000,979.20,1387.50)"><text font-family="Liberation Serif, Times New Roman, serif" font-weight="bold" font-size="80" x="0" y="0" text-anchor="middle">10</text></g>
<g transform="matrix(1.0000,0,0,1.0000,1278.80,1387.50)"><text font-family="Liberation Serif, Times New Roman, serif" font-weight="bold" font-size="80" x="0" y="0" text-anchor="middle">15</text></g>
<g transform="matrix(1.0000,0,0,1.0000,1579.90,1387.50)"><text font-family="Liberation Serif, Times New Roman, serif" font-weight="bold" font-size="80" x="0" y="0" text-anchor="middle">20</text></g>
<g transform="matrix(1.0000,0,0,1.0000,1879.50,1387.50)"><text font-family="Liberation Serif, Times New Roman, serif" font-weight="bold" font-size="80" x="0" y="0" text-anchor="middle">25</text></g>
<g transform="matrix(1.0000,0,0,0.9984,161.00,697.50)"><text font-family="Liberation Serif, Times New Roman, serif" font-weight="bold" font-size="80" x="0" y="0" text-anchor="middle" transform="rotate(-90)">Normal Load(kN)</text></g>
<g transform="matrix(0.9704,0,0,0.8564,1011.30,1470.49)"><text font-family="Liberation Serif, Times New Roman, serif" font-size="70" x="0" y="0" stroke="#000" stroke-width="1.3">&#9651;</text></g>
<g transform="matrix(1.0165,0,0,1.0000,1067.45,1478.60)"><text font-family="Liberation Serif, Times New Roman, serif" font-weight="bold" font-size="78" x="0" y="0">(mm)</text></g>
<g transform="matrix(0.9722,0,0,1.0103,965.61,1632.62)"><text font-family="Liberation Serif, Times New Roman, serif" font-size="86" x="0" y="0">(<tspan font-weight="bold" font-size="81">a</tspan>)</text></g>
<g transform="matrix(0.9882,0,0,0.9893,1625.06,808.92)"><text font-family="Liberation Serif, Times New Roman, serif" font-size="82" x="0" y="0">7.17%</text></g>
<g transform="matrix(0.9848,0,0,1.0143,1621.88,893.07)"><text font-family="Liberation Serif, Times New Roman, serif" font-size="82" x="0" y="0">5.63%</text></g>
<g transform="matrix(0.9845,0,0,1.0018,1621.93,974.10)"><text font-family="Liberation Serif, Times New Roman, serif" font-size="82" x="0" y="0">4.12%</text></g>
<g transform="matrix(0.9959,0,0,1.0000,1627.51,1063.00)"><text font-family="Liberation Serif, Times New Roman, serif" font-size="80" x="0" y="0">Q690</text></g>
<g transform="matrix(0.9971,0,0,1.0000,1630.01,1161.70)"><text font-family="Liberation Serif, Times New Roman, serif" font-size="80" x="0" y="0">Q460</text></g>
<g transform="matrix(0.9860,0,0,1.0000,1627.64,1257.00)"><text font-family="Liberation Serif, Times New Roman, serif" font-size="80" x="0" y="0">Q235</text></g>
</g>
</g>
</svg>
</body></html>
